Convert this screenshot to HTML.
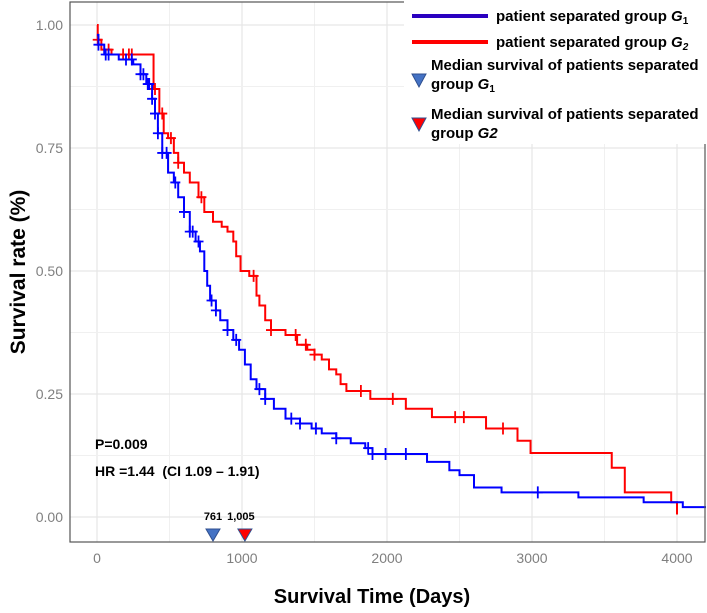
<!DOCTYPE html>
<html><head><meta charset="utf-8">
<style>
body{margin:0;background:#fff;width:707px;height:608px;overflow:hidden;font-family:"Liberation Sans",sans-serif}
svg text{font-family:"Liberation Sans",sans-serif}
</style></head>
<body>
<svg id="chart" width="707" height="608" xmlns="http://www.w3.org/2000/svg">
<g id="grid"></g>
<g id="series"></g>
<rect x="70" y="2" width="635" height="540" fill="none" stroke="#555" stroke-width="1.2"/>
<g id="axes"></g>
<text transform="translate(25,272) rotate(-90)" text-anchor="middle" font-size="21" font-weight="bold">Survival rate (%)</text>
<text x="372" y="603" text-anchor="middle" font-size="20" font-weight="bold">Survival Time (Days)</text>
<text x="95" y="449" font-size="14" font-weight="bold">P=0.009</text>
<text x="95" y="476" font-size="14" font-weight="bold" xml:space="preserve">HR =1.44  (CI 1.09 – 1.91)</text>
<g id="legend">
<rect x="404" y="1" width="302" height="143" fill="#fff"/>
<g><line x1="412" y1="16" x2="488" y2="16" stroke="#2a00c0" stroke-width="4"/><text x="496" y="21" font-size="15" font-weight="bold">patient separated group <tspan font-style="italic">G</tspan><tspan font-size="10" dy="3">1</tspan></text></g>
<g><line x1="412" y1="42" x2="488" y2="42" stroke="#ff0000" stroke-width="4"/><text x="496" y="47" font-size="15" font-weight="bold">patient separated group <tspan font-style="italic">G</tspan><tspan font-size="10" dy="3" font-style="italic">2</tspan></text></g>
<g><polygon points="412,74 426,74 419,87" fill="#4472c4" stroke="#2f4f8f"/><text x="431" y="70" font-size="15" font-weight="bold">Median survival of patients separated</text><text x="431" y="89" font-size="15" font-weight="bold">group <tspan font-style="italic">G</tspan><tspan font-size="10" dy="3">1</tspan></text></g>
<g><polygon points="412,118 426,118 419,131" fill="#ff0000" stroke="#2f4f8f"/><text x="431" y="119" font-size="15" font-weight="bold">Median survival of patients separated</text><text x="431" y="138" font-size="15" font-weight="bold">group <tspan font-style="italic">G2</tspan></text></g>
</g>
</svg>
<script>
const xTicks=[0,1000,2000,3000,4000];
const yTicks=[0,0.25,0.5,0.75,1.0];
const yTickLabels=["0.00","0.25","0.50","0.75","1.00"];
const g1Times=[0,10,50,150,250,300,340,380,400,420,450,490,530,560,600,640,680,710,740,760,780,820,850,900,940,980,1020,1060,1100,1160,1220,1300,1400,1480,1550,1650,1750,1850,1900,2276,2430,2500,2600,2790,3320,3770,4040,4200];
const g1Surv=[0.98,0.96,0.94,0.93,0.92,0.90,0.88,0.85,0.82,0.78,0.74,0.70,0.68,0.65,0.62,0.58,0.56,0.54,0.50,0.47,0.44,0.42,0.40,0.38,0.36,0.34,0.31,0.28,0.26,0.24,0.22,0.20,0.19,0.18,0.17,0.16,0.15,0.14,0.128,0.112,0.095,0.085,0.06,0.05,0.04,0.03,0.02,0.02];
const g2Times=[0,5,30,100,390,430,460,490,530,560,600,640,700,740,800,860,900,940,960,990,1050,1100,1120,1160,1200,1300,1380,1450,1500,1550,1600,1650,1680,1720,1885,2130,2310,2683,2900,2990,3550,3640,3960,4000];
const g2Surv=[1.0,0.97,0.95,0.94,0.87,0.82,0.78,0.77,0.74,0.72,0.70,0.68,0.65,0.62,0.60,0.59,0.58,0.56,0.53,0.50,0.49,0.45,0.43,0.40,0.38,0.37,0.35,0.34,0.33,0.32,0.30,0.29,0.27,0.256,0.24,0.22,0.203,0.18,0.155,0.13,0.10,0.05,0.03,0.005];
const g1Censor=[10,60,80,200,240,300,320,350,360,380,400,420,450,480,540,600,640,660,700,790,820,900,960,1120,1160,1340,1400,1510,1650,1870,1900,1990,2130,3040];
const g2Censor=[5,80,180,220,240,400,450,510,560,720,1080,1200,1370,1440,1500,1820,2040,2470,2530,2800];
const medianLabels=["761","1,005"];
const medianPos=[800,1020];
const medianColors=["#4472c4","#ff0000"];

const NS="http://www.w3.org/2000/svg";
const X=t=>97+t*0.145;
const Y=s=>517-s*492;
function mk(tag,attrs,parent){const e=document.createElementNS(NS,tag);for(const k in attrs)e.setAttribute(k,attrs[k]);parent.appendChild(e);return e;}
const grid=document.getElementById('grid'),axes=document.getElementById('axes'),series=document.getElementById('series');
for(let i=0;i<xTicks.length;i++){
 const x=X(xTicks[i]);
 const l=mk('line',{x1:x,x2:x,y1:2,y2:542,stroke:'#e6e6e6','stroke-width':1.2},grid);
 
 
 if(i<xTicks.length-1){const m=X(xTicks[i]+500);const l2=mk('line',{x1:m,x2:m,y1:2,y2:542,stroke:'#f0f0f0','stroke-width':1},grid);
 
 }
 const t=mk('text',{x:x,y:563,'text-anchor':'middle','font-size':14,fill:'#7f7f7f'},axes);t.textContent=xTicks[i];
 
 
}
for(let i=0;i<yTicks.length;i++){
 const y=Y(yTicks[i]);
 const l=mk('line',{x1:70,x2:705,y1:y,y2:y,stroke:'#e6e6e6','stroke-width':1.2},grid);
 
 
 if(i<yTicks.length-1){const m=Y(yTicks[i]+0.125);const l2=mk('line',{x1:70,x2:705,y1:m,y2:m,stroke:'#f0f0f0','stroke-width':1},grid);
 
 }
 const t=mk('text',{x:63,y:y+5,'text-anchor':'end','font-size':14,fill:'#7f7f7f'},axes);t.textContent=yTickLabels[i];
 
 
}
function survAt(times,surv,t){let s=surv[0];for(let i=0;i<times.length;i++){if(times[i]<=t)s=surv[i];}return s;}
function drawCurve(times,surv,cens,color,name){
 let d='M'+X(times[0])+','+Y(surv[0]);
 for(let i=1;i<times.length;i++){d+=' H'+X(times[i])+' V'+Y(surv[i]);}
 const p=mk('path',{d:d,fill:'none',stroke:color,'stroke-width':2},series);
 
 
 for(const c of cens){const x=X(c),y=Y(survAt(times,surv,c));
  const m=mk('path',{d:`M${x-5},${y}H${x+5}M${x},${y-6}V${y+6}`,stroke:color,'stroke-width':1.8},series);
  
  }
}
drawCurve(g2Times,g2Surv,g2Censor,'#ff0000','g2');
drawCurve(g1Times,g1Surv,g1Censor,'#0000ff','g1');
for(let i=0;i<medianPos.length;i++){
 const x=X(medianPos[i]);
 const tri=mk('polygon',{points:`${x-7},529 ${x+7},529 ${x},541`,fill:medianColors[i],stroke:'#2f4f8f','stroke-width':1},axes);
 
 
}
const ml=mk('text',{x:X(medianPos[0])-0,y:520,'text-anchor':'middle','font-size':11,'font-weight':'bold'},axes);ml.textContent=medianLabels[0];


const ml2=mk('text',{x:X(medianPos[1])-4,y:520,'text-anchor':'middle','font-size':11,'font-weight':'bold'},axes);ml2.textContent=medianLabels[1];


</script>
</body></html>
